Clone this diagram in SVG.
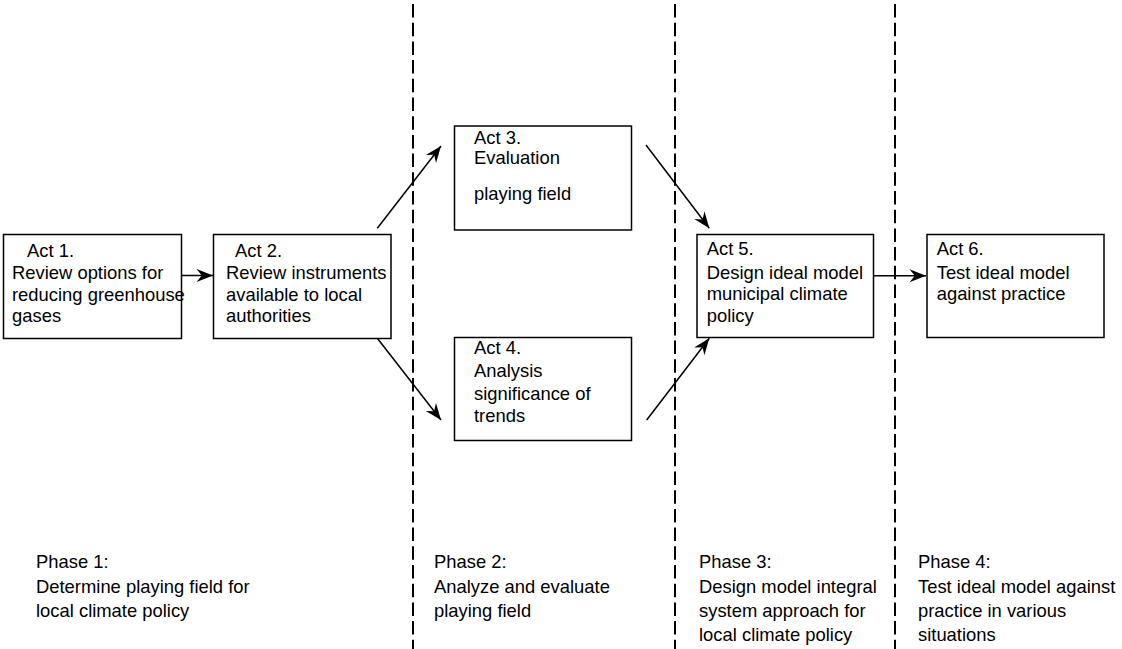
<svg xmlns="http://www.w3.org/2000/svg" width="1122" height="649" viewBox="0 0 1122 649">
<style>
.box{fill:#fff;stroke:#000;stroke-width:1.5}
.t{font-family:"Liberation Sans",Arial,sans-serif;font-size:18.4px;fill:#000}
.c{stroke:#000;stroke-width:1.5;fill:none;marker-end:url(#ah)}
.d{stroke:#000;stroke-width:2;stroke-dasharray:13.5 5.2;fill:none}
</style>
<defs>
<marker id="ah" markerUnits="userSpaceOnUse" markerWidth="20" markerHeight="20" viewBox="-15 -8 17 16" refX="0" refY="0" orient="auto">
<path d="M0,0 L-14,-5.5 L-9.5,0 L-14,5.5 Z" fill="#000"/>
</marker>
</defs>
<g id="dividers">
<line class="d" x1="413" y1="4" x2="413" y2="649"/>
<line class="d" x1="675" y1="4" x2="675" y2="649"/>
<line class="d" x1="895" y1="4" x2="895" y2="649"/>
</g>
<g id="act1">
<rect class="box" x="3.5" y="234.5" width="178" height="104"/>
<text class="t" x="27" y="256.7">Act 1.</text>
<text class="t" x="12" y="279.3">Review options for</text>
<text class="t" x="12" y="301">reducing greenhouse</text>
<text class="t" x="12" y="321.7">gases</text>
</g>
<g id="act2">
<rect class="box" x="213.5" y="234.5" width="177.5" height="104"/>
<text class="t" x="235" y="256.7">Act 2.</text>
<text class="t" x="226" y="279.3">Review instruments</text>
<text class="t" x="226" y="301">available to local</text>
<text class="t" x="226" y="321.7">authorities</text>
</g>
<g id="act3">
<rect class="box" x="454.5" y="126" width="177" height="104"/>
<text class="t" x="474" y="143.5">Act 3.</text>
<text class="t" x="474" y="163.5">Evaluation</text>
<text class="t" x="474" y="200">playing field</text>
</g>
<g id="act4">
<rect class="box" x="454.5" y="337.5" width="177" height="103"/>
<text class="t" x="474" y="354.3">Act 4.</text>
<text class="t" x="474" y="377.3">Analysis</text>
<text class="t" x="474" y="400">significance of</text>
<text class="t" x="474" y="422.3">trends</text>
</g>
<g id="act5">
<rect class="box" x="697" y="234.5" width="176.5" height="103"/>
<text class="t" x="706.7" y="255">Act 5.</text>
<text class="t" x="706.7" y="278.5">Design ideal model</text>
<text class="t" x="706.7" y="300">municipal climate</text>
<text class="t" x="706.7" y="321.7">policy</text>
</g>
<g id="act6">
<rect class="box" x="927" y="234.5" width="177" height="103"/>
<text class="t" x="936.7" y="255">Act 6.</text>
<text class="t" x="936.7" y="278.5">Test ideal model</text>
<text class="t" x="936.7" y="300">against practice</text>
</g>
<g id="phases">
<text class="t" x="36" y="568">Phase 1:</text>
<text class="t" x="36" y="593">Determine playing field for</text>
<text class="t" x="36" y="617">local climate policy</text>
<text class="t" x="434" y="568">Phase 2:</text>
<text class="t" x="434" y="593">Analyze and evaluate</text>
<text class="t" x="434" y="617">playing field</text>
<text class="t" x="699" y="568">Phase 3:</text>
<text class="t" x="699" y="593">Design model integral</text>
<text class="t" x="699" y="617">system approach for</text>
<text class="t" x="699" y="641">local climate policy</text>
<text class="t" x="918" y="568">Phase 4:</text>
<text class="t" x="918" y="593">Test ideal model against</text>
<text class="t" x="918" y="617">practice in various</text>
<text class="t" x="918" y="641">situations</text>
</g>
<g id="connectors">
<line class="c" x1="182" y1="275.5" x2="213" y2="275.5"/>
<line class="c" x1="377.3" y1="228.3" x2="441" y2="146"/>
<line class="c" x1="377.3" y1="338.3" x2="441" y2="420"/>
<line class="c" x1="646" y1="145" x2="709.3" y2="228.3"/>
<line class="c" x1="646.7" y1="420" x2="709.3" y2="338.3"/>
<line class="c" x1="873.5" y1="275.7" x2="926" y2="275.7"/>
</g>
</svg>
